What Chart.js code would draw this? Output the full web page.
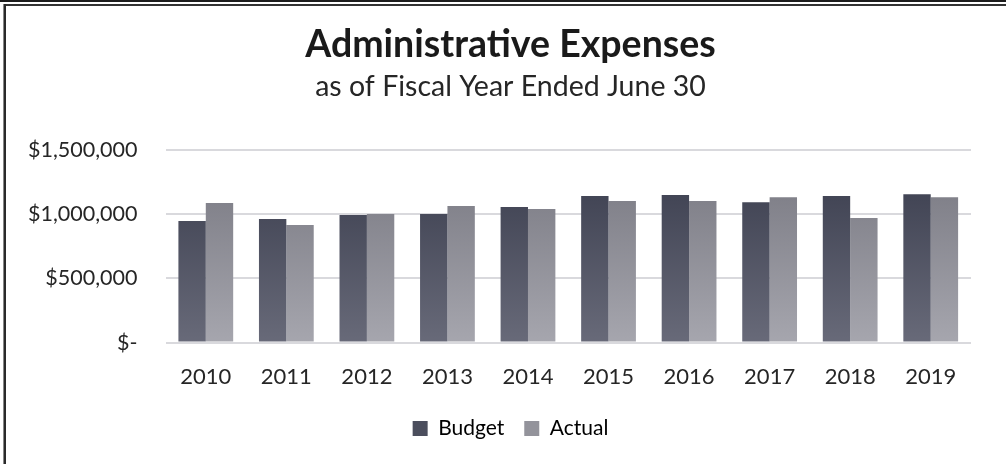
<!DOCTYPE html>
<html>
<head>
<meta charset="utf-8">
<script src="https://cdn.jsdelivr.net/npm/chart.js@4"></script>
<style>
    html, body { margin: 0; padding: 0; background: #fff; }
    #wrap { position: relative; width: 1006px; height: 464px; overflow: hidden; }
    #expenses-chart { position: absolute; left: 0; top: 0; }
    .rule { position: absolute; background: #1c1c1c; }
</style>
</head>
<body>
<div id="wrap">
    <canvas id="expenses-chart" width="1006" height="464"></canvas>
    <div class="rule" style="left:0; top:0; width:1006px; height:2px;"></div>
    <div class="rule" style="left:4px; top:4px; width:1002px; height:2px; background:#333;"></div>
    <div class="rule" style="left:3px; top:4px; width:1px; height:460px; background:#888;"></div>
    <div class="rule" style="left:4px; top:4px; width:2px; height:460px; background:#2a2a2a;"></div>
</div>
<script>
const years = ['2010', '2011', '2012', '2013', '2014', '2015', '2016', '2017', '2018', '2019'];
const budget = [948000, 964000, 995000, 1002000, 1057000, 1142000, 1150000, 1095000, 1142000, 1157000];
const actual = [1088000, 917000, 1002000, 1064000, 1041000, 1103000, 1103000, 1134000, 971000, 1134000];
const yTicks = [0, 500000, 1000000, 1500000];

const fontFamily = 'Lato, "Open Sans", sans-serif';
const canvas = document.getElementById('expenses-chart');

// vertical shading for each bar, darker at the top
const barGradient = (top, bottom) => (context) => {
    const area = context.chart.chartArea;
    if (!area) return top;
    const g = context.chart.ctx.createLinearGradient(0, area.top + 40, 0, area.bottom);
    g.addColorStop(0, top);
    g.addColorStop(1, bottom);
    return g;
};

const formatDollars = (value) => {
    if (value === 0) return '$-';
    return '$' + value.toLocaleString('en-US');
};

new Chart(canvas, {
    type: 'bar',
    data: {
        labels: years,
        datasets: [{
            label: 'Budget',
            data: budget,
            backgroundColor: barGradient('#414454', '#686a79'),
            borderWidth: 0
        }, {
            label: 'Actual',
            data: actual,
            backgroundColor: barGradient('#7f7f88', '#a6a6ae'),
            borderWidth: 0
        }]
    },
    options: {
        responsive: false,
        animation: false,
        datasets: {
            bar: { categoryPercentage: 0.68, barPercentage: 1.0 }
        },
        layout: {
            padding: { left: 15, right: 0, top: 0, bottom: 15 }
        },
        plugins: {
            title: {
                display: true,
                text: 'Administrative Expenses',
                color: '#1a1a1a',
                font: { family: fontFamily, size: 37.5, weight: 'bold', lineHeight: 1.2 },
                padding: { top: 22, bottom: 3 }
            },
            subtitle: {
                display: true,
                text: 'as of Fiscal Year Ended June 30',
                color: '#262626',
                font: { family: fontFamily, size: 28.5, lineHeight: 1.2 },
                padding: { top: 0, bottom: 46 }
            },
            legend: {
                position: 'bottom',
                labels: {
                    color: '#262626',
                    font: { family: fontFamily, size: 21 },
                    boxWidth: 15,
                    boxHeight: 15,
                    padding: 20,
                    generateLabels: (chart) => chart.data.datasets.map((ds, i) => ({
                        text: ds.label,
                        fillStyle: i === 0 ? '#4b4e5d' : '#93939b',
                        strokeStyle: 'transparent',
                        lineWidth: 0,
                        datasetIndex: i
                    }))
                }
            },
            tooltip: { enabled: false }
        },
        scales: {
            x: {
                grid: { display: false, drawTicks: false },
                border: { display: false },
                ticks: {
                    color: '#262626',
                    font: { family: fontFamily, size: 22 },
                    padding: 21
                },
                // pull the plot down toward the legend
                afterFit: (axis) => { axis.height -= 13; }
            },
            y: {
                min: 0,
                max: 1500000,
                afterBuildTicks: (axis) => {
                    axis.ticks = yTicks.map(v => ({ value: v }));
                },
                afterFit: (axis) => { axis.width -= 15; },
                grid: { color: '#d9d9dd', lineWidth: 2, drawTicks: false },
                border: { display: false },
                ticks: {
                    color: '#262626',
                    font: { family: fontFamily, size: 21.5 },
                    padding: 28,
                    callback: formatDollars
                }
            },
            // empty strip on the right so the plot stops short of the edge
            gutter: {
                type: 'linear',
                position: 'right',
                grid: { display: false, drawTicks: false },
                border: { display: false },
                ticks: { display: false },
                afterFit: (axis) => { axis.width = 35; }
            }
        }
    }
});
</script>
</body>
</html>
